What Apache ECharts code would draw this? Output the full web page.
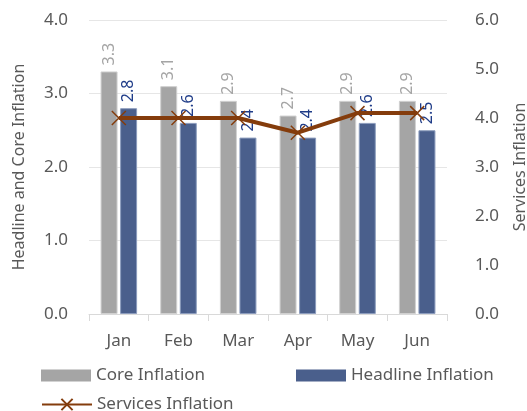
<!DOCTYPE html>
<html>
<head>
<meta charset="utf-8">
<script src="https://cdn.jsdelivr.net/npm/echarts@6/dist/echarts.min.js"></script>
<style>
  html, body { margin: 0; padding: 0; background: #fff; }
  #chart { width: 527px; height: 411px; }
</style>
</head>
<body>
<div id="chart"></div>
<script>
var months = ['Jan', 'Feb', 'Mar', 'Apr', 'May', 'Jun'];
var coreInflation = [3.3, 3.1, 2.9, 2.7, 2.9, 2.9];
var headlineInflation = [2.8, 2.6, 2.4, 2.4, 2.6, 2.5];
var servicesInflation = [4.0, 4.0, 4.0, 3.7, 4.1, 4.1];

var FONT = 'Noto Sans';
var crossPath = 'path://M0,0 L10,10 M10,0 L0,10';
var legendText = { fontSize: 17, color: '#595959', fontFamily: FONT };

var chart = echarts.init(document.getElementById('chart'));

chart.setOption({
  animation: false,
  textStyle: { fontFamily: FONT },
  grid: { left: 89, right: 80, top: 20, bottom: 97, outerBoundsMode: 'none', containLabel: false },
  legend: [{
    left: 36, top: 362, icon: 'rect', itemWidth: 50, itemHeight: 12,
    itemStyle: { borderWidth: 0 },
    textStyle: legendText, data: ['Core Inflation']
  }, {
    left: 291, top: 362, icon: 'rect', itemWidth: 50, itemHeight: 12,
    itemStyle: { borderWidth: 0 },
    textStyle: legendText, data: ['Headline Inflation']
  }, {
    left: 36, top: 391, itemWidth: 50, itemHeight: 14,
    textStyle: legendText, data: ['Services Inflation']
  }],
  xAxis: {
    type: 'category',
    data: months,
    axisLine: { lineStyle: { color: '#D9D9D9', width: 1 } },
    axisTick: { show: true, length: 7, lineStyle: { color: '#D9D9D9' } },
    axisLabel: { fontSize: 17, color: '#595959', margin: 19 }
  },
  yAxis: [{
    type: 'value',
    min: 0, max: 4, interval: 1,
    name: 'Headline and Core Inflation',
    nameLocation: 'middle',
    nameGap: 62,
    nameTextStyle: { fontSize: 16, color: '#595959' },
    axisLine: { show: false },
    axisTick: { show: false },
    axisLabel: { fontSize: 17, color: '#595959', margin: 21,
      formatter: function (v) { return v.toFixed(1); } },
    splitLine: { lineStyle: { color: '#E6E6E6' } }
  }, {
    type: 'value',
    min: 0, max: 6, interval: 1,
    position: 'right',
    name: 'Services Inflation',
    nameLocation: 'middle',
    nameGap: 65,
    nameTextStyle: { fontSize: 16, color: '#595959' },
    axisLine: { show: false },
    axisTick: { show: false },
    axisLabel: { fontSize: 17, color: '#595959', margin: 28,
      formatter: function (v) { return v.toFixed(1); } },
    splitLine: { show: false }
  }],
  series: [{
    name: 'Core Inflation',
    type: 'bar',
    data: coreInflation,
    barWidth: 17,
    barGap: '15%',
    itemStyle: { color: '#A5A5A5', borderColor: '#D0D0D0', borderWidth: 1 },
    label: {
      show: true, position: 'top', rotate: 90, align: 'left', verticalAlign: 'middle',
      distance: 6, fontSize: 16, color: '#A5A5A5',
      formatter: function (p) { return p.value.toFixed(1); }
    }
  }, {
    name: 'Headline Inflation',
    type: 'bar',
    data: headlineInflation,
    barWidth: 17,
    itemStyle: { color: '#4A5F8C', borderColor: '#8C9CBD', borderWidth: 1 },
    label: {
      show: true, position: 'top', rotate: 90, align: 'left', verticalAlign: 'middle',
      distance: 6, fontSize: 16, color: '#1F3C88',
      formatter: function (p) { return p.value.toFixed(1); }
    }
  }, {
    name: 'Services Inflation',
    type: 'line',
    yAxisIndex: 1,
    data: servicesInflation,
    symbol: crossPath,
    symbolSize: 14,
    showAllSymbol: true,
    lineStyle: { color: '#843C0C', width: 4 },
    itemStyle: { color: '#843C0C', borderColor: '#843C0C', borderWidth: 1.5 },
    z: 5
  }]
});
</script>
</body>
</html>
